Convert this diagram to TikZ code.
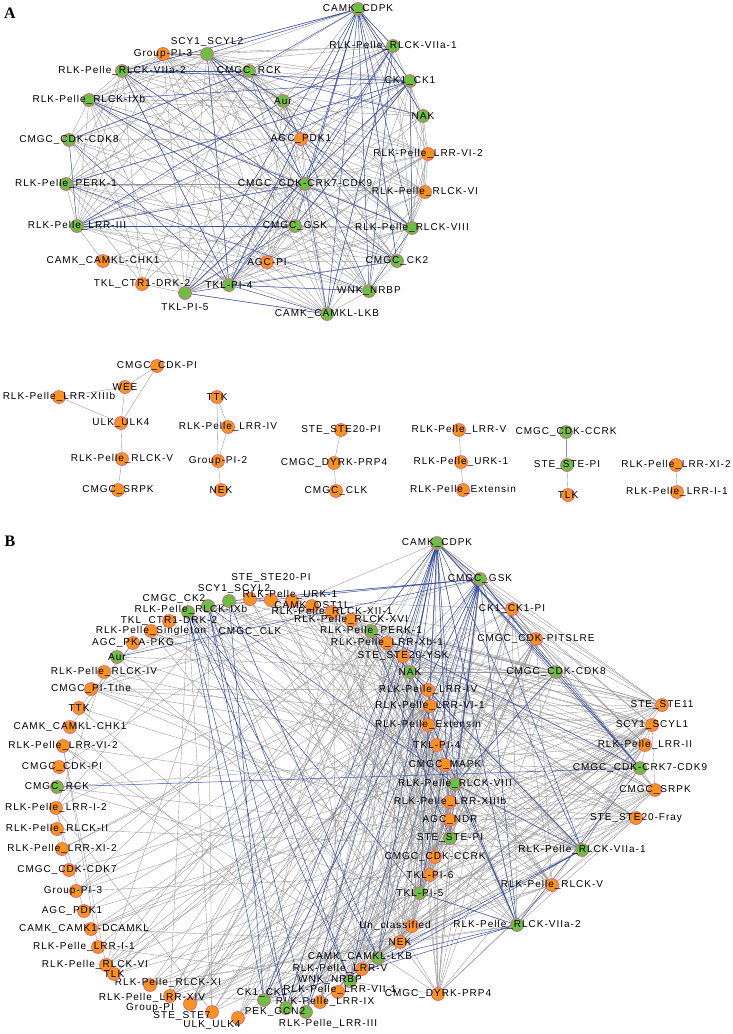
\documentclass[tikz,border=0pt]{standalone}
\usepackage{fontspec}
\newfontfamily\kfont{Liberation Sans}[LetterSpace=10]
\newfontfamily\pfont{Liberation Serif}
\definecolor{kgreen}{RGB}{108,190,69}
\definecolor{korange}{RGB}{247,148,29}
\definecolor{krim}{RGB}{226,86,130}
\definecolor{kgray}{RGB}{150,150,150}
\definecolor{kblue}{RGB}{62,84,168}
\pgfdeclarelayer{bg}
\pgfsetlayers{bg,main}
\tikzset{
  kin/.style={circle, draw=krim, line width=0.6pt, minimum size=13pt, inner sep=0pt},
  every label/.style={font=\kfont\fontsize{10}{12}\selectfont, inner sep=0pt},
  gn/.style={kin, fill=kgreen, label=center:{#1}},
  on/.style={kin, fill=korange, label=center:{#1}},
  gx/.style n args={3}{kin, fill=kgreen, label={[xshift=#2pt, yshift=#3pt]center:{#1}}},
  ox/.style n args={3}{kin, fill=korange, label={[xshift=#2pt, yshift=#3pt]center:{#1}}},
  gedge/.style={kgray, line width=0.35pt},
  bedge/.style={kblue, line width=0.5pt},
  panel/.style={font=\pfont\bfseries\fontsize{16}{16}\selectfont, inner sep=0pt},
}

\begin{document}
\begin{tikzpicture}[x=1pt, y=-1pt]
    \useasboundingbox (0,0) rectangle (733,1034);
    \node[panel] (labA) at (10,13) {A};
    \node[panel] (labB) at (10,541) {B};

    % panel A, main network
    \node[gn=CAMK\_CDPK] (cdpk) at (358,9) {};
    \node[on=Group-PI-3] (grp3) at (163,54) {};
    \node[gx={SCY1\_SCYL2}{0}{12}] (scyl2) at (207,54) {};
    \node[gn=RLK-Pelle\_RLCK-VIIa-2] (vIIa2) at (122,71) {};
    \node[gn=CMGC\_RCK] (rck) at (249,71) {};
    \node[gn=RLK-Pelle\_RLCK-VIIa-1] (vIIa1) at (393,46) {};
    \node[gn=CK1\_CK1] (ck1) at (410,81) {};
    \node[gn=Aur] (aur) at (283,101) {};
    \node[gn=NAK] (nak) at (423,116) {};
    \node[gn=RLK-Pelle\_RLCK-IXb] (ixb) at (89,100) {};
    \node[gn=CMGC\_CDK-CDK8] (cdk8) at (69,140) {};
    \node[on=AGC\_PDK1] (pdk1) at (301,139) {};
    \node[on=RLK-Pelle\_LRR-VI-2] (vi2) at (428,154) {};
    \node[gn=RLK-Pelle\_PERK-1] (perk) at (66,184) {};
    \node[gn=CMGC\_CDK-CRK7-CDK9] (crk7) at (305,184) {};
    \node[on=RLK-Pelle\_RLCK-VI] (vi) at (425,192) {};
    \node[gn=RLK-Pelle\_LRR-III] (lrr3) at (77,226) {};
    \node[gn=CMGC\_GSK] (gsk) at (295,226) {};
    \node[gn=RLK-Pelle\_RLCK-VIII] (viii) at (412,228) {};
    \node[on=CAMK\_CAMKL-CHK1] (chk1) at (103,261) {};
    \node[on=AGC-PI] (agcpi) at (267,262) {};
    \node[gn=CMGC\_CK2] (ck2) at (397,261) {};
    \node[on=TKL\_CTR1-DRK-2] (ctr1) at (142,284) {};
    \node[gn=TKL-PI-4] (pi4) at (229,285) {};
    \node[gx={TKL-PI-5}{0}{-14}] (pi5) at (185,293) {};
    \node[gn=WNK\_NRBP] (nrbp) at (369,291) {};
    \node[gn=CAMK\_CAMKL-LKB] (lkb) at (327,314) {};

    % panel A, small parts
    \node[on=CMGC\_CDK-PI] (cdkpi) at (157,366) {};
    \node[on=WEE] (wee) at (125,387) {};
    \node[on=RLK-Pelle\_LRR-XIIIb] (xiiib) at (59,397) {};
    \node[on=ULK\_ULK4] (ulk4) at (121,423) {};
    \node[on=RLK-Pelle\_RLCK-V] (rlckv) at (122,459) {};
    \node[on=CMGC\_SRPK] (srpk) at (118,490) {};
    \node[on=TTK] (ttk) at (217,397) {};
    \node[on=RLK-Pelle\_LRR-IV] (lrr4) at (228,427) {};
    \node[on=Group-PI-2] (grp2) at (218,461) {};
    \node[on=NEK] (nek) at (221,490) {};
    \node[on=STE\_STE20-PI] (ste20pi) at (341,430) {};
    \node[on=CMGC\_DYRK-PRP4] (dyrk) at (334,463) {};
    \node[on=CMGC\_CLK] (clk) at (336,491) {};
    \node[on=RLK-Pelle\_LRR-V] (lrr5) at (459,430) {};
    \node[on=RLK-Pelle\_URK-1] (urk1) at (461,462) {};
    \node[on=RLK-Pelle\_Extensin] (ext) at (463,490) {};
    \node[gn=CMGC\_CDK-CCRK] (ccrk) at (566,432) {};
    \node[gn=STE\_STE-PI] (stepi) at (567,465) {};
    \node[on=TLK] (tlk) at (568,495) {};
    \node[on=RLK-Pelle\_LRR-XI-2] (xi2) at (676,465) {};
    \node[on=RLK-Pelle\_LRR-I-1] (i1) at (677,492) {};

    % panel B, right arc
    \node[gn=CAMK\_CDPK] (cdpkB) at (437,543) {};
    \node[gn=CMGC\_GSK] (gskB) at (480,579) {};
    \node[on=CK1\_CK1-PI] (ck1piB) at (512,609) {};
    \node[on=CMGC\_CDK-PITSLRE] (pitslreB) at (536,639) {};
    \node[gn=CMGC\_CDK-CDK8] (cdk8B) at (556,672) {};
    \node[on=STE\_STE11] (ste11B) at (662,705) {};
    \node[on=SCY1\_SCYL1] (scyl1B) at (652,725) {};
    \node[on=RLK-Pelle\_LRR-II] (lrr2B) at (645,745) {};
    \node[gn=CMGC\_CDK-CRK7-CDK9] (crk7B) at (640,768) {};
    \node[on=CMGC\_SRPK] (srpkB) at (655,790) {};
    \node[on=STE\_STE20-Fray] (frayB) at (636,818) {};
    \node[gn=RLK-Pelle\_RLCK-VIIa-1] (vIIa1B) at (582,850) {};
    \node[on=RLK-Pelle\_RLCK-V] (rlckvB) at (552,885) {};
    \node[gn=RLK-Pelle\_RLCK-VIIa-2] (vIIa2B) at (517,925) {};
    \node[on=CMGC\_DYRK-PRP4] (dyrkB) at (438,994) {};

    % panel B, middle column
    \node[on=RLK-Pelle\_LRR-IV] (lrr4B) at (428,690) {};
    \node[on=RLK-Pelle\_LRR-VI-1] (vi1B) at (430,706) {};
    \node[on=RLK-Pelle\_Extensin] (extB) at (428,725) {};
    \node[on=TKL-PI-4] (pi4B) at (437,745) {};
    \node[on=CMGC\_MAPK] (mapkB) at (445,765) {};
    \node[gn=RLK-Pelle\_RLCK-VIII] (viiiB) at (455,784) {};
    \node[on=RLK-Pelle\_LRR-XIIIb] (xiiibB) at (450,802) {};
    \node[on=AGC\_NDR] (ndrB) at (450,820) {};
    \node[gn=STE\_STE-PI] (stepiB) at (450,838) {};
    \node[on=CMGC\_CDK-CCRK] (ccrkB) at (435,857) {};
    \node[on=TKL-PI-6] (pi6B) at (430,875) {};
    \node[gn=TKL-PI-5] (pi5B) at (420,893) {};
    \node[ox={Un\_classified}{-17}{0}] (unclB) at (412,926) {};
    \node[on=NEK] (nekB) at (400,942) {};
    \node[gx={CAMK\_CAMKL-LKB}{-18}{1}] (lkbB) at (378,958) {};
    \node[ox={RLK-Pelle\_LRR-V}{-22}{0}] (lrr5B) at (362,969) {};
    \node[gx={WNK\_NRBP}{-20}{1}] (nrbpB) at (350,981) {};
    \node[ox={RLK-Pelle\_LRR-VII-1}{2}{2}] (lrr7B) at (338,992) {};
    \node[ox={RLK-Pelle\_LRR-IX}{5}{0}] (lrr9B) at (320,1002) {};
    \node[gx={RLK-Pelle\_LRR-III}{22}{-12}] (lrr3B) at (306,1012) {};
    \node[gx={PEK\_GCN2}{-11}{-4}] (pekB) at (286,1008) {};
    \node[gx={CK1\_CK1}{-2}{7}] (ck1B) at (264,1000) {};
    \node[ox={ULK\_ULK4}{-26}{-7}] (ulk4B) at (238,1018) {};
    \node[ox={STE\_STE7}{-30}{-4}] (ste7B) at (212,1012) {};
    \node[ox={Group-PI}{-40}{-4}] (grpB) at (190,1004) {};
    \node[ox={RLK-Pelle\_LRR-XIV}{-18}{-2}] (xivB) at (170,996) {};
    \node[ox={RLK-Pelle\_RLCK-XI}{18}{2}] (xiB) at (150,985) {};

    % panel B, top arc
    \node[ox={CMGC\_CLK}{0}{-33}] (clkB) at (250,599) {};
    \node[ox={STE\_STE20-PI}{0}{22}] (ste20piB) at (271,600) {};
    \node[ox={RLK-Pelle\_URK-1}{-2}{6}] (urk1B) at (292,601) {};
    \node[on=CAMK\_OST1L] (ost1lB) at (312,606) {};
    \node[on=RLK-Pelle\_RLCK-XII-1] (xii1B) at (332,612) {};
    \node[on=RLK-Pelle\_RLCK-XVI] (xviB) at (351,620) {};
    \node[gn=RLK-Pelle\_PERK-1] (perkB) at (371,631) {};
    \node[on=RLK-Pelle\_LRR-Xb-1] (xb1B) at (387,643) {};
    \node[on=STE\_STE20-YSK] (yskB) at (403,656) {};
    \node[gn=NAK] (nakB) at (410,672) {};
    \node[gx={SCY1\_SCYL2}{5}{12}] (scyl2B) at (229,601) {};
    \node[gx={CMGC\_CK2}{-34}{7}] (ck2B) at (208,606) {};
    \node[gx={RLK-Pelle\_RLCK-IXb}{3}{2}] (ixbB) at (188,612) {};

    % panel B, left arc
    \node[on=TKL\_CTR1-DRK-2] (ctr1B) at (169,621) {};
    \node[on=RLK-Pelle\_Singleton] (singB) at (151,631) {};
    \node[on=AGC\_PKA-PKG] (pkaB) at (133,643) {};
    \node[gn=Aur] (aurB) at (117,657) {};
    \node[on=RLK-Pelle\_RLCK-IV] (rlck4B) at (104,672) {};
    \node[on=CMGC\_PI-Tthe] (ptheB) at (91,689) {};
    \node[on=TTK] (ttkB) at (79,708) {};
    \node[on=CAMK\_CAMKL-CHK1] (chk1B) at (70,727) {};
    \node[on=RLK-Pelle\_LRR-VI-2] (vi2B) at (63,746) {};
    \node[ox={CMGC\_CDK-PI}{3}{0}] (cdkpiB) at (59,767) {};
    \node[gn=CMGC\_RCK] (rckB) at (57,787) {};
    \node[on=RLK-Pelle\_LRR-I-2] (i2B) at (56,808) {};
    \node[on=RLK-Pelle\_RLCK-II] (iiB) at (57,829) {};
    \node[on=RLK-Pelle\_LRR-XI-2] (xi2B) at (62,849) {};
    \node[ox={CMGC\_CDK-CDK7}{-2}{0}] (cdk7B) at (69,870) {};
    \node[ox={Group-PI-3}{-3}{0}] (grp3B) at (76,891) {};
    \node[ox={AGC\_PDK1}{-12}{0}] (pdk1B) at (84,911) {};
    \node[ox={CAMK\_CAMK1-DCAMKL}{-7}{0}] (dcamklB) at (91,929) {};
    \node[ox={RLK-Pelle\_LRR-I-1}{-14}{0}] (i1B) at (98,947) {};
    \node[ox={RLK-Pelle\_RLCK-VI}{-11}{0}] (viB) at (106,965) {};
    \node[on=TLK] (tlkB) at (114,974) {};

    \begin{pgfonlayer}{bg}
    \fill[white] (0,0) rectangle (733,1034);
    \pgfmathsetseed{11}
    % panel A
    \def\listA{cdpk,scyl2,grp3,vIIa2,rck,vIIa1,ck1,aur,nak,ixb,cdk8,pdk1,vi2,perk,crk7,vi,lrr3,gsk,viii,agcpi,ck2,pi4,pi5,nrbp,lkb}
    \def\greenA{scyl2,vIIa2,rck,vIIa1,ck1,aur,nak,ixb,cdk8,perk,crk7,lrr3,gsk,viii,ck2,pi4,pi5,nrbp,lkb}
    \foreach \a [count=\i] in \listA {
      \foreach \b [count=\j] in \listA {
        \ifnum\j>\i
          \pgfmathtruncatemacro\hit{rnd<0.6}
          \ifnum\hit=1 \draw[gedge] (\a)--(\b);\fi
        \fi
      }
    }
    \draw[gedge] (chk1)--(pi4) (chk1)--(gsk) (chk1)--(crk7) (chk1)--(lrr3) (chk1)--(agcpi)
      (ctr1)--(pi5) (ctr1)--(perk) (ctr1)--(vIIa2) (ctr1)--(rck) (ctr1)--(ixb) (ctr1)--(pdk1);
    \foreach \a [count=\i] in \greenA {
      \foreach \b [count=\j] in \greenA {
        \ifnum\j>\i
          \pgfmathtruncatemacro\hit{rnd<0.2}
          \ifnum\hit=1 \draw[bedge] (\a)--(\b);\fi
        \fi
      }
    }
    \draw[bedge] (cdpk)--(pi4) (cdpk)--(pi5) (cdpk)--(lkb) (cdpk)--(nrbp) (cdpk)--(gsk)
      (cdpk)--(crk7) (cdpk)--(ck2) (cdpk)--(viii) (cdpk)--(nak) (cdpk)--(ck1)
      (cdpk)--(vIIa1) (cdpk)--(rck) (cdpk)--(scyl2) (cdpk)--(vIIa2);
    \draw[gedge] (cdkpi)--(wee) (cdkpi)--(ulk4) (wee)--(ulk4) (xiiib)--(wee) (xiiib)--(ulk4)
      (ulk4)--(rlckv) (rlckv)--(srpk);
    \draw[gedge] (ttk)--(lrr4) (ttk)--(grp2) (lrr4)--(grp2) (grp2)--(nek);
    \draw[gedge] (ste20pi)--(dyrk) (dyrk)--(clk);
    \draw[gedge] (lrr5)--(urk1) (urk1)--(ext);
    \draw[bedge] (ccrk)--(stepi);
    \draw[gedge] (stepi)--(tlk) (xi2)--(i1);

    % panel B
    \def\listR{cdpkB,gskB,ck1piB,pitslreB,cdk8B,ste11B,scyl1B,lrr2B,crk7B,srpkB,frayB,vIIa1B,rlckvB,vIIa2B,dyrkB,lrr4B,vi1B,extB,pi4B,mapkB,viiiB,xiiibB,ndrB,stepiB,ccrkB,pi6B,pi5B,unclB,nekB,nakB,yskB,xb1B,perkB}
    \def\listT{ck2B,scyl2B,ixbB,clkB,ste20piB,urk1B,ost1lB,xii1B,xviB}
    \def\listL{ctr1B,singB,pkaB,aurB,rlck4B,ptheB,ttkB,chk1B,vi2B,cdkpiB,rckB,i2B,iiB,xi2B,cdk7B,grp3B,pdk1B,dcamklB,i1B,viB,tlkB}
    \def\listD{xiB,xivB,grpB,ste7B,ulk4B,ck1B,pekB,lrr3B,lrr9B,lrr7B,nrbpB,lrr5B,lkbB}
    \edef\listO{\listT,\listL,\listD}
    \foreach \a [count=\i] in \listR {
      \foreach \b [count=\j] in \listR {
        \ifnum\j>\i
          \pgfmathtruncatemacro\hit{rnd<0.4}
          \ifnum\hit=1 \draw[gedge] (\a)--(\b);\fi
        \fi
      }
    }
    \foreach \a in \listT {
      \foreach \b in \listR {
        \pgfmathtruncatemacro\hit{rnd<0.18}
        \ifnum\hit=1 \draw[gedge] (\a)--(\b);\fi
      }
    }
    \foreach \a in \listL {
      \foreach \b in \listR {
        \pgfmathtruncatemacro\hit{rnd<0.1}
        \ifnum\hit=1 \draw[gedge] (\a)--(\b);\fi
      }
    }
    \foreach \a in \listD {
      \foreach \b in \listR {
        \pgfmathtruncatemacro\hit{rnd<0.22}
        \ifnum\hit=1 \draw[gedge] (\a)--(\b);\fi
      }
    }
    \foreach \a [count=\i] in \listO {
      \foreach \b [count=\j] in \listO {
        \ifnum\j>\i
          \pgfmathtruncatemacro\hit{rnd<0.03}
          \ifnum\hit=1 \draw[gedge] (\a)--(\b);\fi
        \fi
      }
    }
    \draw[bedge] (cdpkB)--(gskB) (cdpkB)--(vIIa1B) (cdpkB)--(vIIa2B) (cdpkB)--(crk7B)
      (cdpkB)--(cdk8B) (cdpkB)--(stepiB) (cdpkB)--(pi5B) (cdpkB)--(lkbB) (cdpkB)--(nrbpB)
      (cdpkB)--(viiiB) (cdpkB)--(nakB) (cdpkB)--(perkB) (cdpkB)--(ck1B) (cdpkB)--(pekB)
      (cdpkB)--(lrr3B);
    \draw[bedge] (gskB)--(vIIa1B) (gskB)--(vIIa2B) (gskB)--(cdk8B) (gskB)--(crk7B)
      (gskB)--(viiiB) (gskB)--(stepiB) (gskB)--(pi5B) (gskB)--(lkbB) (gskB)--(nrbpB)
      (gskB)--(nakB) (gskB)--(ck1B) (gskB)--(lrr3B) (gskB)--(scyl2B) (gskB)--(aurB)
      (gskB)--(ck2B);
    \draw[bedge] (ixbB)--(lkbB) (ixbB)--(nrbpB) (ixbB)--(pi5B) (ixbB)--(ck1B) (ixbB)--(pekB)
      (ck2B)--(lrr3B) (ck2B)--(pekB) (ck2B)--(nrbpB) (ck2B)--(viiiB)
      (scyl2B)--(ck1B) (scyl2B)--(lkbB) (rckB)--(crk7B);
    \draw[bedge] (perkB)--(stepiB) (perkB)--(vIIa1B) (perkB)--(crk7B)
      (nakB)--(vIIa1B) (nakB)--(vIIa2B) (viiiB)--(vIIa1B) (viiiB)--(vIIa2B) (viiiB)--(cdk8B)
      (crk7B)--(vIIa2B) (crk7B)--(cdk8B) (vIIa1B)--(lkbB) (vIIa1B)--(nrbpB)
      (vIIa2B)--(pi5B) (vIIa2B)--(lkbB) (vIIa2B)--(ck1B);
    \end{pgfonlayer}
\end{tikzpicture}
\end{document}
